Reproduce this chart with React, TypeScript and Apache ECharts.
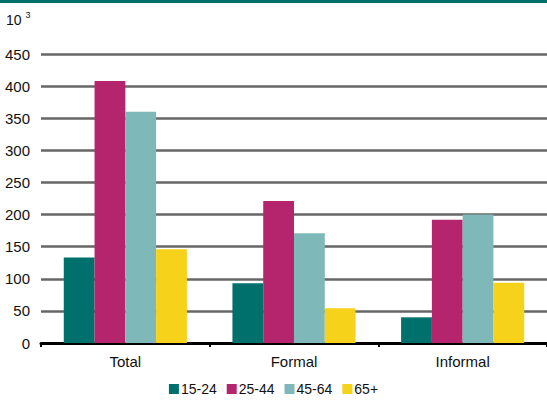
import React, { useEffect, useRef } from "react";
import * as echarts from "echarts";

const categories = ["Total", "Formal", "Informal"];
const seriesNames = ["15-24", "25-44", "45-64", "65+"];
const values1524 = [133, 93, 40];
const values2544 = [408, 221, 192];
const values4564 = [360, 171, 200];
const values65 = [146, 54, 94];
const colors = ["#00706C", "#B4256E", "#7FB8B9", "#F6D21A"];
const yTicks = [0, 50, 100, 150, 200, 250, 300, 350, 400, 450];

const FONT = "'Liberation Sans', Arial, sans-serif";

export default function App() {
  const ref = useRef<HTMLDivElement>(null);
  useEffect(() => {
    if (!ref.current) return;
    const chart = echarts.init(ref.current, undefined, { renderer: "svg" });
    const data = [values1524, values2544, values4564, values65];
    chart.setOption({
      animation: false,
      backgroundColor: "#ffffff",
      textStyle: { fontFamily: FONT },
      grid: { left: 41, right: -5, top: 54, bottom: 57, containLabel: false },
      legend: {
        data: seriesNames,
        top: 382,
        left: "center",
        padding: 0,
        itemWidth: 10,
        itemHeight: 10,
        itemGap: 10,
        icon: "rect",
        textStyle: { fontFamily: FONT, fontSize: 14, color: "#111", padding: [0, 0, 0, -3] },
      },
      graphic: [
        { type: "rect", shape: { x: 0, y: 0, width: 547, height: 3 }, style: { fill: "#00706C" } },
        {
          type: "text",
          x: 6,
          y: 10,
          style: {
            text: "{a|10 }{b|3}",
            rich: {
              a: { fontSize: 14, fontFamily: FONT, fill: "#111", verticalAlign: "bottom" },
              b: { fontSize: 9, fontFamily: FONT, fill: "#111", verticalAlign: "top", padding: [0, 0, 8, 0] },
            },
          },
        },
      ],
      xAxis: {
        type: "category",
        data: categories,
        axisLine: { show: true, lineStyle: { color: "#000", width: 3 } },
        axisTick: { show: true, length: 4, lineStyle: { color: "#000", width: 2 } },
        axisLabel: { fontFamily: FONT, fontSize: 15, color: "#111", margin: 11 },
        splitLine: { show: false },
      },
      yAxis: {
        type: "value",
        min: 0,
        max: 450,
        interval: 50,
        axisLine: { show: false },
        axisTick: { show: false },
        axisLabel: {
          fontFamily: FONT,
          fontSize: 15,
          color: "#111",
          margin: 11,
          formatter: (v: number) => (yTicks.includes(v) ? String(v) : ""),
        },
        splitLine: { show: true, lineStyle: { color: "#666", width: 2.5 } },
      },
      series: seriesNames.map((name, i) => ({
        name,
        type: "bar",
        data: data[i],
        barGap: "0%",
        barCategoryGap: "27%",
        itemStyle: { color: colors[i] },
        z: 3,
      })),
    });
    return () => chart.dispose();
  }, []);
  return <div ref={ref} style={{ width: 547, height: 400, position: "absolute", left: 0, top: 0 }} />;
}
